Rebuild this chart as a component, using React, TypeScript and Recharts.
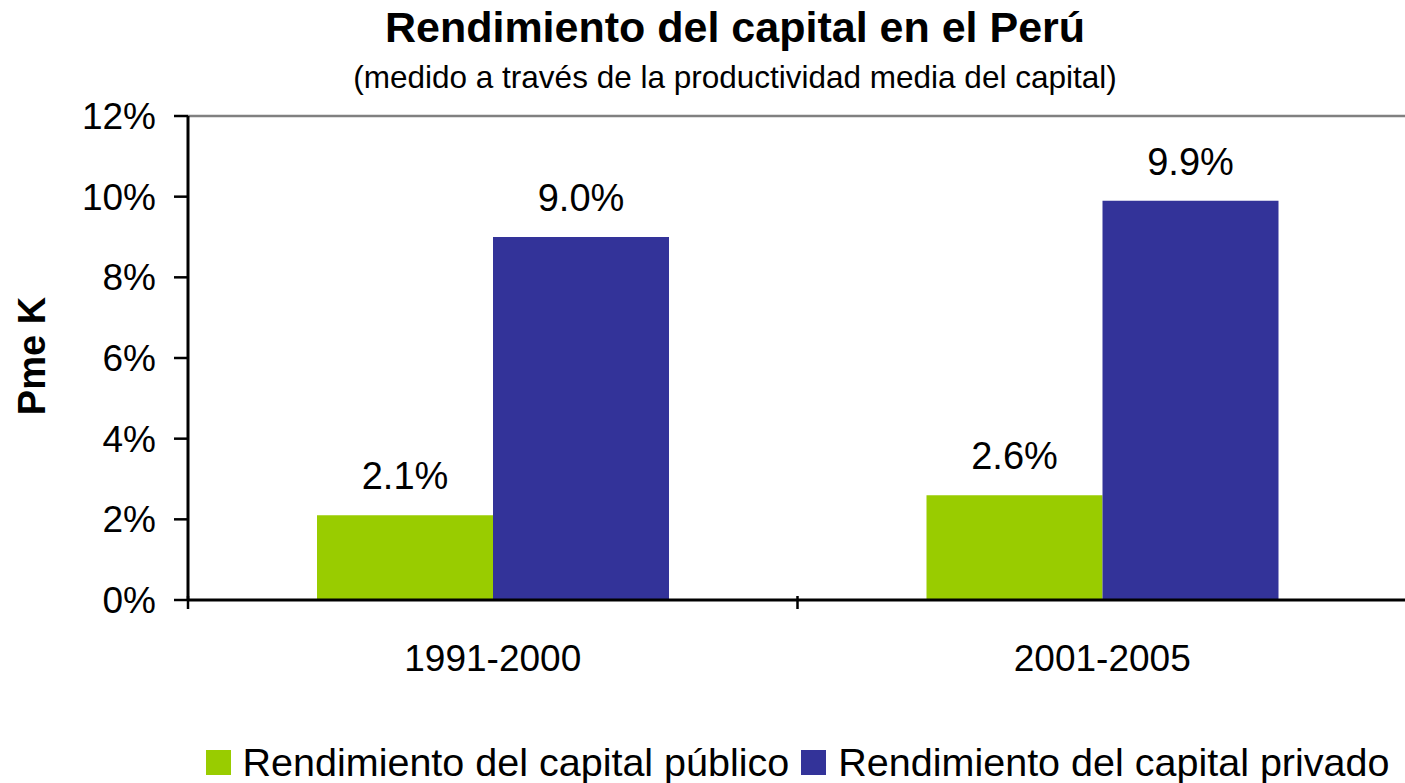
import React from "react";
import {
  BarChart,
  Bar,
  XAxis,
  YAxis,
  Legend,
  LabelList,
  ReferenceLine,
} from "recharts";

const categories = ["1991-2000", "2001-2005"];
const publicReturn = [2.1, 2.6];
const privateReturn = [9.0, 9.9];
const yTicks = [0, 2, 4, 6, 8, 10, 12];
const seriesOrder = ["publico", "privado"];

const FONT = '"Liberation Sans", Arial, Helvetica, sans-serif';
const GREEN = "#99CC00";
const BLUE = "#333399";

const CHART_W = 1420;
const CHART_H = 783;
const MARGIN = { top: 116, right: 13, bottom: 83, left: 0 };
const Y_AXIS_W = 188;
const PLOT_W = CHART_W - MARGIN.left - MARGIN.right - Y_AXIS_W;
const HALF_BAND = PLOT_W / categories.length / 2;

const data = categories.map((c, i) => ({
  period: c,
  publico: publicReturn[i],
  privado: privateReturn[i],
}));

// x ticks sit on the band edges, labels at the band centre
function PeriodTick(props: any) {
  const { x, y, payload } = props;
  const edge = x - HALF_BAND;
  return (
    <g>
      <line x1={edge} y1={y - 12} x2={edge} y2={y + 1} stroke="#000" strokeWidth={2.5} />
      <text x={x} y={y + 63} textAnchor="middle" fontSize={37} fontFamily={FONT} fill="#000">
        {payload.value}
      </text>
    </g>
  );
}

function LegendContent(props: any) {
  const items = [...(props.payload || [])].sort(
    (a: any, b: any) => seriesOrder.indexOf(a.dataKey) - seriesOrder.indexOf(b.dataKey)
  );
  return (
    <div
      style={{
        display: "flex",
        justifyContent: "center",
        alignItems: "center",
        gap: 12,
        fontFamily: FONT,
        fontSize: 39.5,
        lineHeight: "39px",
        whiteSpace: "nowrap",
      }}
    >
      {items.map((p: any) => (
        <span key={p.value} style={{ display: "flex", alignItems: "center", gap: 12 }}>
          <span style={{ width: 25, height: 25, background: p.color, display: "inline-block" }} />
          <span style={{ color: "#000" }}>{p.value}</span>
        </span>
      ))}
    </div>
  );
}

export default function App() {
  return (
    <div
      style={{
        position: "absolute",
        left: 0,
        top: 0,
        width: 1405,
        height: 783,
        overflow: "hidden",
        background: "#fff",
      }}
    >
      <svg
        width={1405}
        height={110}
        style={{ position: "absolute", left: 0, top: 0, zIndex: 2 }}
      >
        <text x={735} y={42} textAnchor="middle" fontSize={43} fontWeight="bold" fontFamily={FONT} fill="#000">
          Rendimiento del capital en el Perú
        </text>
        <text x={735} y={88} textAnchor="middle" fontSize={31.5} fontFamily={FONT} fill="#000">
          (medido a través de la productividad media del capital)
        </text>
      </svg>
      <BarChart
        width={CHART_W}
        height={CHART_H}
        data={data}
        margin={MARGIN}
        barGap={0}
        barSize={176}
      >
        <ReferenceLine y={12} stroke="#808080" strokeWidth={2.5} ifOverflow="extendDomain" />
        <XAxis
          dataKey="period"
          height={100}
          axisLine={{ stroke: "#000", strokeWidth: 3 }}
          tickLine={false}
          tick={<PeriodTick />}
          interval={0}
        />
        <YAxis
          width={Y_AXIS_W}
          domain={[0, 12]}
          ticks={yTicks}
          tickFormatter={(v) => `${v}%`}
          axisLine={{ stroke: "#000", strokeWidth: 3 }}
          tickLine={{ stroke: "#000", strokeWidth: 2.5 }}
          tickSize={14}
          tickMargin={18}
          tick={{ fontSize: 37, fill: "#000", fontFamily: FONT }}
          label={{
            content: (p: any) => {
              const vb = p.viewBox || { x: 0, y: 116, height: 484 };
              const cx = vb.x + 45;
              const cy = vb.y + vb.height / 2 - 2;
              return (
                <text
                  x={cx}
                  y={cy}
                  transform={`rotate(-90 ${cx} ${cy})`}
                  textAnchor="middle"
                  fontSize={38}
                  fontWeight="bold"
                  fontFamily={FONT}
                  fill="#000"
                >
                  Pme K
                </text>
              );
            },
          }}
        />
        <Legend
          verticalAlign="middle"
          align="center"
          layout="horizontal"
          wrapperStyle={{ top: 743, left: Y_AXIS_W, width: PLOT_W }}
          content={<LegendContent />}
        />
        <Bar dataKey="publico" name="Rendimiento del capital público" fill={GREEN} isAnimationActive={false}>
          <LabelList
            dataKey="publico"
            position="top"
            offset={26}
            formatter={(v: any) => `${Number(v).toFixed(1)}%`}
            style={{ fontSize: 38, fill: "#000", fontFamily: FONT }}
          />
        </Bar>
        <Bar dataKey="privado" name="Rendimiento del capital privado" fill={BLUE} isAnimationActive={false}>
          <LabelList
            dataKey="privado"
            position="top"
            offset={26}
            formatter={(v: any) => `${Number(v).toFixed(1)}%`}
            style={{ fontSize: 38, fill: "#000", fontFamily: FONT }}
          />
        </Bar>
      </BarChart>
    </div>
  );
}
